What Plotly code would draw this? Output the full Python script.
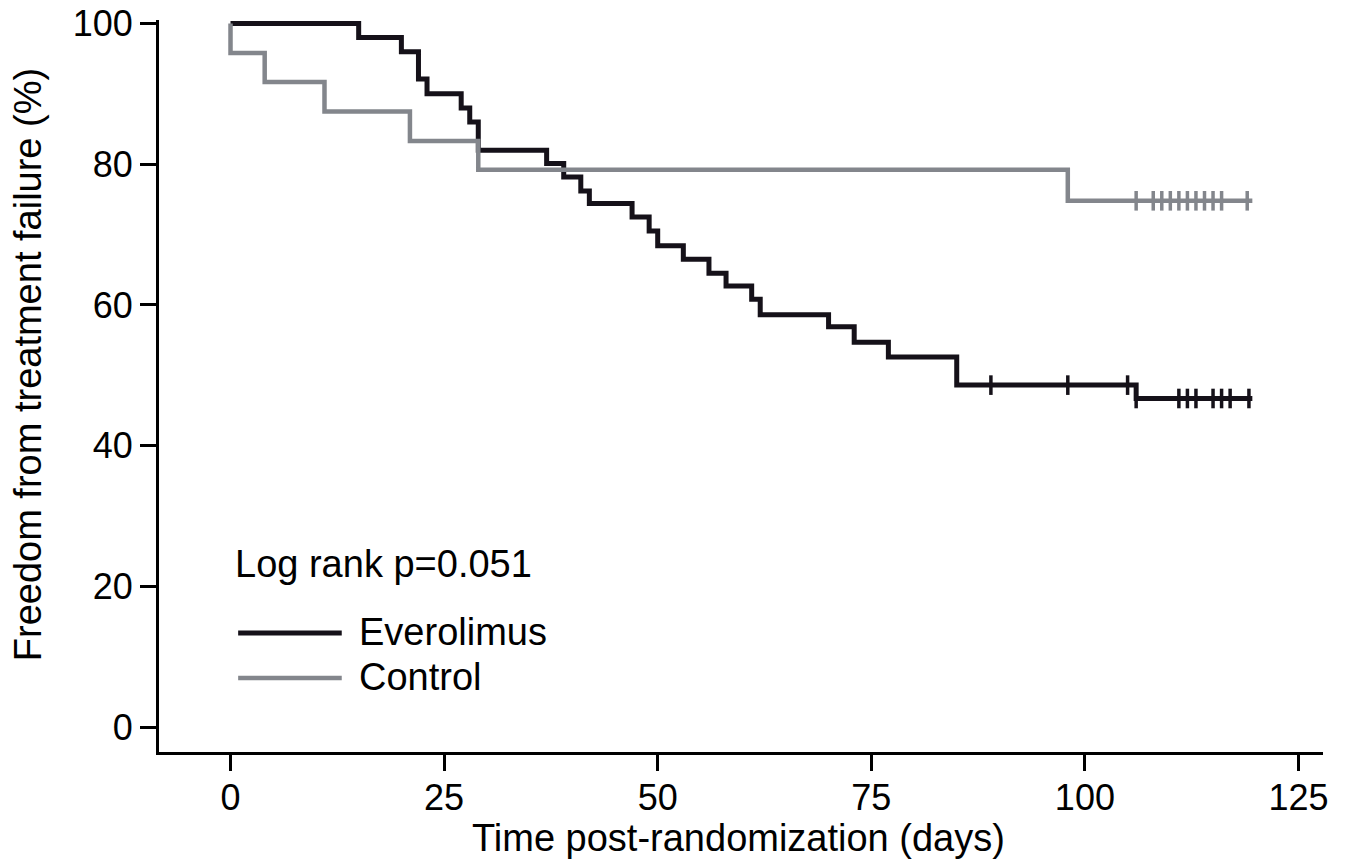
import plotly.graph_objects as go

# ---------------- data ----------------
evero_event_days = [15, 20, 22, 23, 27, 28, 29, 37, 39, 41, 42, 47, 49, 50, 53, 56, 58,
                    61, 62, 70, 73, 77, 85, 106]
evero_surv = [98, 96, 92.1, 90, 88, 86, 82, 80.1, 78.2, 76.2, 74.4, 72.5, 70.5, 68.4,
              66.5, 64.5, 62.7, 60.8, 58.6, 56.9, 54.7, 52.6, 48.6, 46.7]
evero_censor_days = [89, 98, 105, 106, 111, 112, 113, 115, 116, 117, 119.2]
evero_last_day = 119.6

ctrl_event_days = [0, 4, 11, 21, 29, 98]
ctrl_surv = [95.8, 91.7, 87.5, 83.3, 79.2, 74.8]
ctrl_censor_days = [106, 108, 109, 110, 111, 112, 113, 114, 115, 116, 119]
ctrl_last_day = 119.6

x_ticks = [0, 25, 50, 75, 100, 125]
y_ticks = [0, 20, 40, 60, 80, 100]

series_names = ["Everolimus", "Control"]
pvalue_text = "Log rank p=0.051"
x_title = "Time post-randomization (days)"
y_title = "Freedom from treatment failure (%)"

BLACK = "#151119"
GRAY = "#83868c"
FONT = "Liberation Sans, Arial, Helvetica, sans-serif"


def step_xy(days, surv, last_day):
    xs = [0] + list(days) + [last_day]
    ys = [100] + list(surv) + [surv[-1]]
    return xs, ys


def level_at(t, days, surv):
    lvl = 100
    for d, s in zip(days, surv):
        if d <= t:
            lvl = s
    return lvl


fig = go.Figure()

for name, days, surv, cens, last, color, width in [
    (series_names[0], evero_event_days, evero_surv, evero_censor_days, evero_last_day, BLACK, 5),
    (series_names[1], ctrl_event_days, ctrl_surv, ctrl_censor_days, ctrl_last_day, GRAY, 4.5),
]:
    xs, ys = step_xy(days, surv, last)
    fig.add_trace(go.Scatter(x=xs, y=ys, mode="lines", line=dict(color=color, width=width, shape="hv"),
                             name=name, showlegend=False, hoverinfo="skip"))
    fig.add_trace(go.Scatter(x=cens, y=[level_at(t, days, surv) for t in cens], mode="markers",
                             marker=dict(symbol="line-ns", size=14, line=dict(color=color, width=3.5)),
                             showlegend=False, hoverinfo="skip", cliponaxis=False))

# legend drawn manually (long line swatches as in the reference)
fig.add_shape(type="line", xref="paper", yref="paper", x0=0.068, x1=0.157, y0=0.1626, y1=0.1626,
              line=dict(color=BLACK, width=5))
fig.add_shape(type="line", xref="paper", yref="paper", x0=0.068, x1=0.157, y0=0.1011, y1=0.1011,
              line=dict(color=GRAY, width=4.5))

ann_font = dict(family=FONT, size=38, color="#000000")
fig.add_annotation(text=pvalue_text, xref="paper", yref="paper", x=0.064, y=0.257,
                   xanchor="left", yanchor="middle", showarrow=False, font=ann_font)
fig.add_annotation(text=series_names[0], xref="paper", yref="paper", x=0.170, y=0.164,
                   xanchor="left", yanchor="middle", showarrow=False, font=ann_font)
fig.add_annotation(text=series_names[1], xref="paper", yref="paper", x=0.170, y=0.103,
                   xanchor="left", yanchor="middle", showarrow=False, font=ann_font)

# axis titles
fig.add_annotation(text=x_title, xref="paper", yref="paper", x=0.498, y=-0.117,
                   xanchor="center", yanchor="middle", showarrow=False, font=ann_font)
fig.add_annotation(text=y_title, xref="paper", yref="paper", x=-0.113, y=0.529,
                   xanchor="center", yanchor="middle", showarrow=False, textangle=-90, font=ann_font)

axis_common = dict(showline=True, linewidth=3, linecolor="#000000", ticks="outside", ticklen=16,
                   tickwidth=2.5, tickcolor="#000000", showgrid=False, zeroline=False,
                   automargin=False,
                   tickfont=dict(family=FONT, size=36, color="#000000"))

fig.update_xaxes(range=[-8.37, 127.87], tickvals=x_ticks, ticklabelstandoff=-4, **axis_common)
fig.update_yaxes(range=[-3.55, 100.5], tickvals=y_ticks, **axis_common)

fig.update_layout(width=1351, height=859, margin=dict(l=159, r=28, t=20, b=107, pad=0),
                  plot_bgcolor="#ffffff", paper_bgcolor="#ffffff", showlegend=False,
                  font=dict(family=FONT, color="#000000"))

fig.write_html("out.html", config={"displayModeBar": False},
               post_script="document.body.style.margin='0';document.body.style.overflow='hidden';")
